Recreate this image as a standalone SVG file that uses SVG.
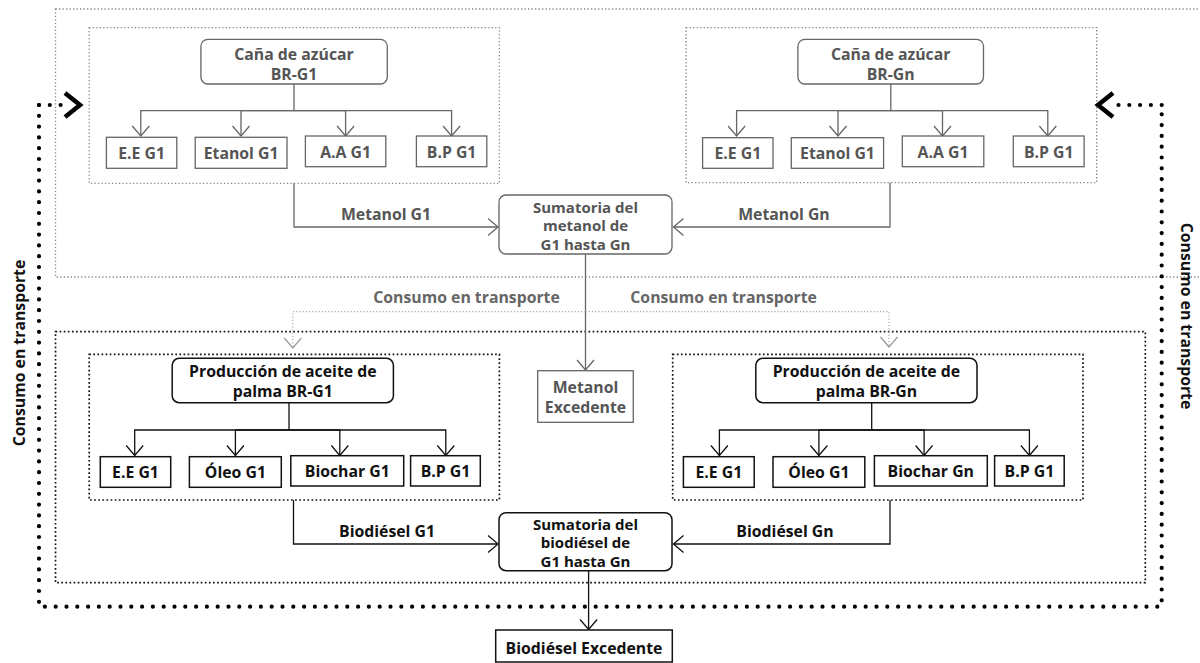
<svg xmlns="http://www.w3.org/2000/svg" width="1200" height="663" viewBox="0 0 1200 663">
<style>
text{font-family:"Open Sans","Liberation Sans",sans-serif;font-weight:700;font-size:15.8px;text-anchor:middle}
.sm{font-size:15px}
.gt{fill:#555}
.bt{fill:#111}
.lt{fill:#666}
.gbox{fill:#fff;stroke:#666;stroke-width:1.3}
.bbox{fill:#fff;stroke:#111;stroke-width:1.5}
.gl{fill:none;stroke:#666;stroke-width:1.3}
.bl{fill:none;stroke:#111;stroke-width:1.3}
.gdot{fill:none;stroke:#888;stroke-width:1.3;stroke-dasharray:1.3 2.2}
.ldot{fill:none;stroke:#aaa;stroke-width:1.2;stroke-dasharray:1.2 2}
.bdot{fill:none;stroke:#111;stroke-width:1.7;stroke-dasharray:1.7 2.4}
.big{fill:none;stroke:#000;stroke-width:4.2;stroke-linecap:round;stroke-dasharray:0 10.8}
.chev{fill:none;stroke:#000;stroke-width:4.5;stroke-linejoin:miter}
</style>
<defs>
<marker id="ag" markerUnits="userSpaceOnUse" markerWidth="14" markerHeight="20" refX="11" refY="9" orient="auto"><path d="M1,0.5 L11,9 L1,17.5" fill="none" stroke="#666" stroke-width="1.3"/></marker>
<marker id="al" markerUnits="userSpaceOnUse" markerWidth="14" markerHeight="20" refX="11" refY="9" orient="auto"><path d="M1,0.5 L11,9 L1,17.5" fill="none" stroke="#999" stroke-width="1.2"/></marker>
<marker id="ab" markerUnits="userSpaceOnUse" markerWidth="14" markerHeight="20" refX="11" refY="9" orient="auto"><path d="M1,0.5 L11,9 L1,17.5" fill="none" stroke="#111" stroke-width="1.3"/></marker>
</defs>
<rect width="1200" height="663" fill="#fff"/>

<g id="frames">
<rect class="gdot" x="55.5" y="9" width="1150" height="268"/>
<rect class="gdot" x="89.2" y="27.7" width="410.2" height="155.6"/>
<rect class="gdot" x="686.1" y="27.7" width="410.6" height="155"/>
<rect class="bdot" x="55.5" y="331.7" width="1089.8" height="251"/>
<rect class="bdot" x="89.2" y="354.3" width="410.2" height="145.7"/>
<rect class="bdot" x="672.7" y="354.3" width="410.3" height="145.7"/>
</g>

<g id="connectors">
<path class="gl" d="M294,84 V110.7 H140.8 V136" marker-end="url(#ag)"/>
<path class="gl" d="M294,110.7 H241 V136" marker-end="url(#ag)"/>
<path class="gl" d="M294,110.7 H345.6 V136" marker-end="url(#ag)"/>
<path class="gl" d="M294,110.7 H451.6 V136" marker-end="url(#ag)"/>
<path class="gl" d="M890.8,84 V110.7 H736.6 V136" marker-end="url(#ag)"/>
<path class="gl" d="M890.8,110.7 H838 V136" marker-end="url(#ag)"/>
<path class="gl" d="M890.8,110.7 H942.5 V136" marker-end="url(#ag)"/>
<path class="gl" d="M890.8,110.7 H1047.8 V136" marker-end="url(#ag)"/>
<path class="gl" d="M294,183.3 V227 H498" marker-end="url(#ag)"/>
<path class="gl" d="M890,182.7 V227 H673.5" marker-end="url(#ag)"/>
<path class="gl" d="M585.5,254 V370" marker-end="url(#ag)"/>
<path class="ldot" d="M585.5,311.7 H292.8 V348" marker-end="url(#al)"/>
<path class="ldot" d="M585.5,311.7 H889 V347" marker-end="url(#al)"/>
<path class="bl" d="M289,402.7 V430 H134.7 V455.5" marker-end="url(#ab)"/>
<path class="bl" d="M289,430 H235.4 V455.5" marker-end="url(#ab)"/>
<path class="bl" d="M289,430 H339.8 V455.5" marker-end="url(#ab)"/>
<path class="bl" d="M289,430 H445.8 V455.5" marker-end="url(#ab)"/>
<path class="bl" d="M871.7,402.7 V430 H719.4 V455.5" marker-end="url(#ab)"/>
<path class="bl" d="M871.7,430 H818.9 V455.5" marker-end="url(#ab)"/>
<path class="bl" d="M871.7,430 H924.1 V455.5" marker-end="url(#ab)"/>
<path class="bl" d="M871.7,430 H1029.4 V455.5" marker-end="url(#ab)"/>
<path class="bl" d="M293.5,500 V544 H498" marker-end="url(#ab)"/>
<path class="bl" d="M890,500 V544 H673.5" marker-end="url(#ab)"/>
<path class="bl" d="M588.6,570.7 V629.5" marker-end="url(#ab)"/>
<path class="big" d="M39,105 V606.7 H1161.7 V105"/>
<path class="big" d="M39,105 H70"/>
<path class="big" d="M1161.7,105 H1118"/>
<path class="chev" d="M65,93 L80,105 L65,117"/>
<path class="chev" d="M1113,93 L1098,105 L1113,117"/>
</g>

<g id="lbl-metanol-g1"><text class="gt" x="386" y="220">Metanol G1</text></g>
<g id="lbl-metanol-gn"><text class="gt" x="784" y="220">Metanol Gn</text></g>
<g id="lbl-consumo-1"><text class="lt" x="466.5" y="303">Consumo en transporte</text></g>
<g id="lbl-consumo-2"><text class="lt" x="723.6" y="303">Consumo en transporte</text></g>
<g id="lbl-biodiesel-g1"><text class="bt" x="387" y="537">Biodiésel G1</text></g>
<g id="lbl-biodiesel-gn"><text class="bt" x="785" y="537">Biodiésel Gn</text></g>
<g id="lbl-side-left"><text class="bt" transform="translate(25,353) rotate(-90)">Consumo en transporte</text></g>
<g id="lbl-side-right"><text class="bt" transform="translate(1181,316) rotate(90)">Consumo en transporte</text></g>

<g id="cana-g1"><rect class="gbox" x="200.9" y="39.3" width="186.4" height="44.7" rx="7"/><text class="gt" x="294" y="60">Caña de azúcar<tspan x="294" dy="20">BR-G1</tspan></text></g>
<g id="ee-g1-top"><rect class="gbox" x="106.4" y="137.3" width="70.4" height="31"/><text class="gt" x="141.6" y="159">E.E G1</text></g>
<g id="etanol-g1-top"><rect class="gbox" x="195.2" y="137.3" width="91.8" height="31"/><text class="gt" x="241.1" y="159">Etanol G1</text></g>
<g id="aa-g1-top"><rect class="gbox" x="305.4" y="136" width="80.4" height="30.7"/><text class="gt" x="345.6" y="157.5">A.A G1</text></g>
<g id="bp-g1-top"><rect class="gbox" x="416.4" y="136" width="70.4" height="30.7"/><text class="gt" x="451.6" y="157.5">B.P G1</text></g>

<g id="cana-gn"><rect class="gbox" x="797.9" y="39.3" width="185.6" height="44.7" rx="7"/><text class="gt" x="890.7" y="60">Caña de azúcar<tspan x="890.7" dy="20">BR-Gn</tspan></text></g>
<g id="ee-g1-top-r"><rect class="gbox" x="702.6" y="137.7" width="70.4" height="30.6"/><text class="gt" x="737.8" y="159">E.E G1</text></g>
<g id="etanol-g1-top-r"><rect class="gbox" x="791.3" y="137.7" width="92.3" height="30.6"/><text class="gt" x="837.5" y="159">Etanol G1</text></g>
<g id="aa-g1-top-r"><rect class="gbox" x="902.3" y="136" width="81.5" height="30.7"/><text class="gt" x="943" y="157.5">A.A G1</text></g>
<g id="bp-g1-top-r"><rect class="gbox" x="1013.3" y="136" width="70.8" height="30.7"/><text class="gt" x="1048.7" y="157.5">B.P G1</text></g>

<g id="suma-metanol"><rect class="gbox" x="499" y="195" width="173" height="59" rx="7"/><text class="gt sm" x="585.5" y="212.5">Sumatoria del<tspan x="585.5" dy="18.8">metanol de</tspan><tspan x="585.5" dy="18.8">G1 hasta Gn</tspan></text></g>
<g id="metanol-excedente"><rect class="gbox" x="537.7" y="370.7" width="95.6" height="51.6"/><text class="gt" x="585.5" y="393.3">Metanol<tspan x="585.5" dy="20">Excedente</tspan></text></g>

<g id="palma-g1"><rect class="bbox" x="172.2" y="358.3" width="221.2" height="44.4" rx="7"/><text class="bt" x="282.8" y="377">Producción de aceite de<tspan x="282.8" dy="20">palma BR-G1</tspan></text></g>
<g id="ee-g1-bot"><rect class="bbox" x="100.3" y="456.7" width="70.4" height="30.6"/><text class="bt" x="135.5" y="478">E.E G1</text></g>
<g id="oleo-g1-bot"><rect class="bbox" x="189.4" y="456.7" width="91.9" height="30.6"/><text class="bt" x="235.4" y="478">Óleo G1</text></g>
<g id="biochar-g1-bot"><rect class="bbox" x="290.8" y="455.7" width="112.9" height="30.3"/><text class="bt" x="347.3" y="477">Biochar G1</text></g>
<g id="bp-g1-bot"><rect class="bbox" x="410.6" y="455.7" width="69.7" height="30.3"/><text class="bt" x="445.5" y="477">B.P G1</text></g>

<g id="palma-gn"><rect class="bbox" x="755.8" y="358.3" width="221.2" height="44.4" rx="7"/><text class="bt" x="866.4" y="377">Producción de aceite de<tspan x="866.4" dy="20">palma BR-Gn</tspan></text></g>
<g id="ee-g1-bot-r"><rect class="bbox" x="683.4" y="456.7" width="70.8" height="30.6"/><text class="bt" x="718.8" y="478">E.E G1</text></g>
<g id="oleo-g1-bot-r"><rect class="bbox" x="773" y="456.7" width="91.8" height="30.6"/><text class="bt" x="818.9" y="478">Óleo G1</text></g>
<g id="biochar-gn-bot"><rect class="bbox" x="874.4" y="455.7" width="112.9" height="30.3"/><text class="bt" x="930.8" y="477">Biochar Gn</text></g>
<g id="bp-g1-bot-r"><rect class="bbox" x="994.6" y="455.7" width="69.6" height="30.3"/><text class="bt" x="1029.4" y="477">B.P G1</text></g>

<g id="suma-biodiesel"><rect class="bbox" x="499" y="512.7" width="173" height="58" rx="7"/><text class="bt sm" x="585.5" y="529.5">Sumatoria del<tspan x="585.5" dy="18.8">biodiésel de</tspan><tspan x="585.5" dy="18.8">G1 hasta Gn</tspan></text></g>
<g id="biodiesel-excedente"><rect class="bbox" x="495.7" y="630" width="176.6" height="32"/><text class="bt" x="584" y="654">Biodiésel Excedente</text></g>
</svg>
